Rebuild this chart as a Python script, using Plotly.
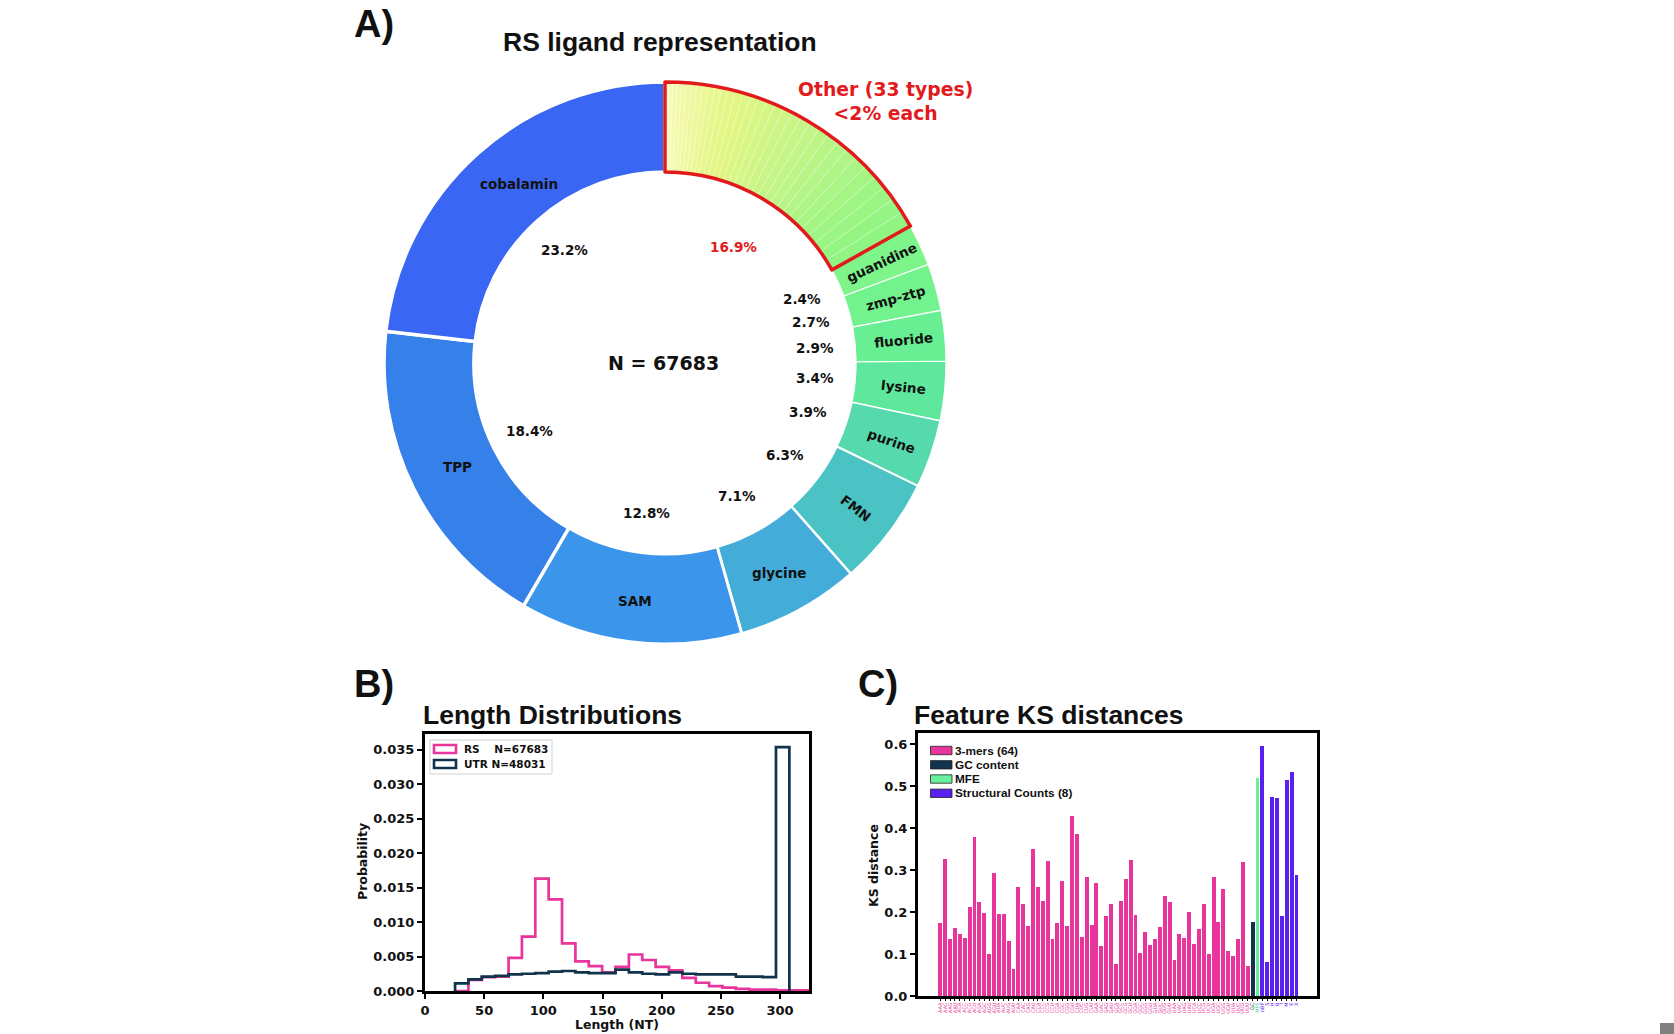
import math
import plotly.graph_objects as go

W, H = 1674, 1034

# ---------------- Panel A data ----------------
ligands = ["guanidine", "zmp-ztp", "fluoride", "lysine", "purine", "FMN",
           "glycine", "SAM", "TPP", "cobalamin"]
ligand_pct = [2.4, 2.7, 2.9, 3.4, 3.9, 6.3, 7.1, 12.8, 18.4, 23.2]
ligand_colors = ["#7ef58a", "#73f38d", "#69ef93", "#5fe89d", "#56d9ad",
                 "#4bc3c4", "#44acd9", "#3b95ea", "#3680ea", "#3966f2"]
# 33 small ligand types grouped as "Other" (each < 2 %)
other_pct = [0.21, 0.23, 0.24, 0.26, 0.28, 0.29, 0.31, 0.33, 0.35, 0.36, 0.38,
             0.40, 0.42, 0.43, 0.45, 0.47, 0.49, 0.51, 0.53, 0.55, 0.57, 0.59,
             0.61, 0.63, 0.66, 0.68, 0.70, 0.73, 0.78, 0.81, 0.84, 0.88, 0.93]
n_sequences = 67683
n_other_types = 33

# ---------------- Panel B data ----------------
bin_edges = [25.4, 36.7, 48.0, 59.3, 70.6, 81.9, 93.2, 104.5, 115.8, 127.1,
             138.4, 149.7, 161.0, 172.3, 183.6, 194.9, 206.2, 217.5, 228.8,
             240.1, 251.4, 262.7, 274.0, 285.3, 296.6, 307.9, 319.2, 330.5]
rs_density = [0.0, 0.0016, 0.0020, 0.0021, 0.0048, 0.0079, 0.0163, 0.0133,
              0.0069, 0.0043, 0.0036, 0.0027, 0.0035, 0.0053, 0.0045, 0.0035,
              0.0030, 0.0019, 0.0012, 0.0007, 0.0005, 0.0003, 0.0002, 0.0002,
              0.0001, 0.0001, 0.0001]
utr_density = [0.0011, 0.0017, 0.0021, 0.0022, 0.0024, 0.0025, 0.0026, 0.0028,
               0.0029, 0.0027, 0.0026, 0.0026, 0.0031, 0.0027, 0.0025, 0.0024,
               0.0027, 0.0025, 0.0024, 0.0024, 0.0024, 0.0021, 0.0021, 0.0020,
               0.0354]
rs_n = 67683
utr_n = 48031

# ---------------- Panel C data ----------------
kmer_labels = ["AAA", "AAC", "AAG", "AAU", "ACA", "ACC", "ACG", "ACU",
               "AGA", "AGC", "AGG", "AGU", "AUA", "AUC", "AUG", "AUU",
               "CAA", "CAC", "CAG", "CAU", "CCA", "CCC", "CCG", "CCU",
               "CGA", "CGC", "CGG", "CGU", "CUA", "CUC", "CUG", "CUU",
               "GAA", "GAC", "GAG", "GAU", "GCA", "GCC", "GCG", "GCU",
               "GGA", "GGC", "GGG", "GGU", "GUA", "GUC", "GUG", "GUU",
               "UAA", "UAC", "UAG", "UAU", "UCA", "UCC", "UCG", "UCU",
               "UGA", "UGC", "UGG", "UGU", "UUA", "UUC", "UUG", "UUU"]
kmer_ks = [0.173, 0.327, 0.137, 0.161, 0.148, 0.139, 0.211, 0.380,
           0.223, 0.197, 0.099, 0.294, 0.196, 0.196, 0.131, 0.064,
           0.261, 0.219, 0.167, 0.350, 0.259, 0.227, 0.321, 0.137,
           0.175, 0.273, 0.168, 0.428, 0.386, 0.140, 0.283, 0.169,
           0.270, 0.119, 0.191, 0.220, 0.076, 0.227, 0.279, 0.324,
           0.194, 0.102, 0.153, 0.122, 0.135, 0.165, 0.238, 0.223,
           0.086, 0.147, 0.138, 0.200, 0.124, 0.159, 0.219, 0.101,
           0.284, 0.176, 0.254, 0.108, 0.095, 0.135, 0.320, 0.072]
gc_label = "GC"
gc_ks = 0.177
mfe_label = "MFE"
mfe_ks = 0.519
struct_labels = ["nBP", "S", "H", "B", "I", "M", "E", "X"]
struct_ks = [0.597, 0.080, 0.475, 0.472, 0.190, 0.515, 0.535, 0.288]

# ---------------- styling ----------------
PINK = "#e8359b"
NAVY = "#11344c"
MFE_GREEN = "#68f09c"
VIOLET = "#5a20f0"
RED = "#e31a1c"
DJ = "DejaVu Sans"
AR = "Liberation Sans, Arial, sans-serif"


def px(x):
    return x / W


def py(y):
    return 1 - y / H


def hex2rgb(h):
    h = h.lstrip("#")
    return [int(h[i:i + 2], 16) for i in (0, 2, 4)]


def grad(anchors, t):
    for (t0, c0), (t1, c1) in zip(anchors[:-1], anchors[1:]):
        if t0 <= t <= t1:
            f = (t - t0) / (t1 - t0) if t1 > t0 else 0
            a, b = hex2rgb(c0), hex2rgb(c1)
            return "rgb(%d,%d,%d)" % tuple(round(a[i] + (b[i] - a[i]) * f) for i in range(3))
    return anchors[-1][1]


other_anchors = [(0.0, "#f8fab6"), (0.4, "#e3f682"), (0.7, "#c0f587"), (1.0, "#90f582")]
other_colors = [grad(other_anchors, i / (len(other_pct) - 1)) for i in range(len(other_pct))]

fig = go.Figure()

# ---------------- Panel A: donut ----------------
CX, CY, R = 665, 363, 281
HOLE = 0.68
dom_x = [px(CX - R), px(CX + R)]
dom_y = [py(CY + R), py(CY - R)]

pie_values = other_pct + ligand_pct
pie_labels = ["other type %d" % (i + 1) for i in range(len(other_pct))] + ligands
pie_colors = other_colors + ligand_colors
line_w = [0.6] * len(other_pct) + [1.2, 1.2, 1.2, 1.2, 1.5, 2.0, 2.5, 3.0, 3.5, 3.5]
line_c = ["rgba(255,255,255,0.4)"] * len(other_pct) + ["white"] * len(ligands)

fig.add_trace(go.Pie(values=pie_values, labels=pie_labels, sort=False,
                     direction="clockwise", rotation=0, hole=HOLE,
                     marker=dict(colors=pie_colors, line=dict(color=line_c, width=line_w)),
                     textinfo="none", hoverinfo="label+percent", showlegend=False,
                     domain=dict(x=dom_x, y=dom_y)))

other_total = sum(other_pct)
rest_total = sum(ligand_pct)
fig.add_trace(go.Pie(values=[other_total, rest_total], labels=["Other", "rest"], sort=False,
                     direction="clockwise", rotation=0, hole=HOLE,
                     marker=dict(colors=["rgba(0,0,0,0)", "rgba(0,0,0,0)"],
                                 line=dict(color=[RED, "rgba(0,0,0,0)"], width=[3.5, 0])),
                     textinfo="none", hoverinfo="skip", showlegend=False,
                     domain=dict(x=dom_x, y=dom_y)))

total = other_total + rest_total
R_LAB = 280
label_radius = {"cobalamin": 0.825, "TPP": 0.83}
label_turn = {"cobalamin": 2.5}


def polar(frac, ang):
    a = math.radians(ang)
    return px(CX + R_LAB * frac * math.sin(a)), py(CY - R_LAB * frac * math.cos(a))


annotations = []
lab_font = dict(family=DJ, size=13.5, color="#111111", weight="bold")

# Other percentage
ang_other_mid = other_total / total * 360 / 2
x, y = polar(0.48, ang_other_mid)
annotations.append(dict(x=x, y=y, text="%.1f%%" % (other_total / total * 100),
                        font=dict(family=DJ, size=13.5, color=RED, weight="bold")))

cum = other_total
for name, v in zip(ligands, ligand_pct):
    a0 = cum / total * 360
    cum += v
    a1 = cum / total * 360
    mid = (a0 + a1) / 2
    x, y = polar(label_radius.get(name, 0.855), mid + label_turn.get(name, 0))
    rot = (mid - 90) if v < 7 else 0
    annotations.append(dict(x=x, y=y, text=name, textangle=rot, font=lab_font))
    x, y = polar(0.54, mid)
    annotations.append(dict(x=x, y=y, text="%.1f%%" % (v / total * 100), font=lab_font))

annotations.append(dict(x=px(CX - 2), y=py(CY), text="N = %d" % n_sequences,
                        font=dict(family=DJ, size=19, color="#111111", weight="bold")))
annotations.append(dict(x=px(885), y=py(101),
                        text="Other (%d types)<br>&lt;2%% each" % n_other_types,
                        font=dict(family=DJ, size=18.8, color=RED, weight="bold")))

# ---------------- Panel B: step histograms ----------------
def step_xy(edges, vals):
    e = edges[:len(vals) + 1]
    return [e[0]] + e[:-1] + [e[-1]], [0] + list(vals) + [0]


xs, ys = step_xy(bin_edges, rs_density)
fig.add_trace(go.Scatter(x=xs, y=ys, mode="lines", line=dict(color=PINK, width=2.7, shape="hv"),
                         xaxis="x", yaxis="y", showlegend=False))
xs, ys = step_xy(bin_edges, utr_density)
fig.add_trace(go.Scatter(x=xs, y=ys, mode="lines", line=dict(color=NAVY, width=2.7, shape="hv"),
                         xaxis="x", yaxis="y", showlegend=False))

# ---------------- Panel C: bars ----------------
n_k = len(kmer_ks)
x_k = list(range(n_k))
x_gc = [n_k]
x_mfe = [n_k + 1]
x_st = list(range(n_k + 2, n_k + 2 + len(struct_ks)))
bw = 0.8
fig.add_trace(go.Bar(x=x_k, y=kmer_ks, width=bw, marker=dict(color=PINK, line=dict(width=0)),
                     xaxis="x2", yaxis="y2", showlegend=False))
fig.add_trace(go.Bar(x=x_gc, y=[gc_ks], width=bw, marker=dict(color=NAVY, line=dict(width=0)),
                     xaxis="x2", yaxis="y2", showlegend=False))
fig.add_trace(go.Bar(x=x_mfe, y=[mfe_ks], width=bw, marker=dict(color=MFE_GREEN, line=dict(width=0)),
                     xaxis="x2", yaxis="y2", showlegend=False))
fig.add_trace(go.Bar(x=x_st, y=struct_ks, width=bw, marker=dict(color=VIOLET, line=dict(width=0)),
                     xaxis="x2", yaxis="y2", showlegend=False))

tick_vals = x_k + x_gc + x_mfe + x_st
tick_cols = [PINK] * n_k + [NAVY] + ["#3fd98a"] + [VIOLET] * len(struct_ks)
tick_txt = ['<span style="color:%s">%s</span>' % (c, t)
            for c, t in zip(tick_cols, kmer_labels + [gc_label, mfe_label] + struct_labels)]

tickfont = dict(family=DJ, size=13, color="#111111", weight="bold")
frame = dict(showline=True, linewidth=3, linecolor="black", mirror=True,
             showgrid=False, zeroline=False, ticks="outside", ticklen=5, tickwidth=2,
             tickcolor="black", automargin=False)

fig.update_layout(
    width=W, height=H, margin=dict(l=0, r=0, t=0, b=0, pad=0, autoexpand=False),
    autosize=False,
    paper_bgcolor="white", plot_bgcolor="white", showlegend=False, bargap=0,
    xaxis=dict(domain=[px(425), px(809)], range=[0, 324.5],
               tickvals=[0, 50, 100, 150, 200, 250, 300], tickfont=tickfont,
               anchor="y", **frame),
    yaxis=dict(domain=[py(991), py(734)], range=[0, 0.0373],
               tickvals=[0, 0.005, 0.01, 0.015, 0.02, 0.025, 0.03, 0.035],
               tickformat=".3f", tickfont=tickfont, anchor="x", **frame),
    xaxis2=dict(domain=[px(918), px(1317)], range=[-4.57, 77.2], tickvals=tick_vals,
                ticktext=tick_txt, tickangle=-90,
                tickfont=dict(family=DJ, size=5), anchor="y2",
                showline=True, linewidth=3, linecolor="black", mirror=True,
                showgrid=False, zeroline=False, ticks="outside", ticklen=1.5,
                tickwidth=0.5, tickcolor="black", automargin=False),
    yaxis2=dict(domain=[py(996), py(733)], range=[0, 0.627],
                tickvals=[0, 0.1, 0.2, 0.3, 0.4, 0.5, 0.6], tickformat=".1f",
                tickfont=tickfont, anchor="x2", **frame),
)

# Titles / panel letters / axis titles
title_font = dict(family=AR, size=26.5, color="#111111", weight="bold")
letter_font = dict(family=AR, size=38, color="#111111", weight="bold")
axis_font = dict(family=DJ, size=12.5, color="#111111", weight="bold")
annotations += [
    dict(x=px(352), y=py(24), text="A)", xanchor="left", font=letter_font),
    dict(x=px(352), y=py(684), text="B)", xanchor="left", font=letter_font),
    dict(x=px(856), y=py(684), text="C)", xanchor="left", font=letter_font),
    dict(x=px(660), y=py(42), text="RS ligand representation", font=title_font),
    dict(x=px(421), y=py(715), text="Length Distributions", xanchor="left", font=title_font),
    dict(x=px(912), y=py(715), text="Feature KS distances", xanchor="left", font=title_font),
    dict(x=px(362), y=py(862), text="Probability", textangle=-90, font=axis_font),
    dict(x=px(617), y=py(1024), text="Length (NT)", font=axis_font),
    dict(x=px(873), y=py(866), text="KS distance", textangle=-90, font=axis_font),
]

shapes = []
# Panel B legend
shapes.append(dict(type="rect", xref="paper", yref="paper", x0=px(430), x1=px(552),
                   y0=py(774), y1=py(740), line=dict(color="#d0d0d0", width=1),
                   fillcolor="rgba(255,255,255,0.8)"))
leg_b = [(PINK, "RS\u00a0\u00a0\u00a0\u00a0N=%d" % rs_n, 749), (NAVY, "UTR N=%d" % utr_n, 764)]
for col, txt, yc in leg_b:
    shapes.append(dict(type="rect", xref="paper", yref="paper", x0=px(434), x1=px(456),
                       y0=py(yc + 4), y1=py(yc - 4), line=dict(color=col, width=2.6),
                       fillcolor="white"))
    annotations.append(dict(x=px(462), y=py(yc), text=txt, xanchor="left",
                            font=dict(family=DJ, size=10.5, color="#111111", weight="bold")))

# Panel C legend
leg_c = [(PINK, "3-mers (%d)" % n_k, 750.5), (NAVY, "GC content", 764.8),
         (MFE_GREEN, "MFE", 779), (VIOLET, "Structural Counts (%d)" % len(struct_ks), 793.3)]
for col, txt, yc in leg_c:
    shapes.append(dict(type="rect", xref="paper", yref="paper", x0=px(930.5), x1=px(952),
                       y0=py(yc + 4.2), y1=py(yc - 4.2), line=dict(color="#222222", width=0.8),
                       fillcolor=col))
    annotations.append(dict(x=px(953), y=py(yc), text=txt, xanchor="left",
                            font=dict(family=AR, size=11.8, color="#111111", weight="bold")))

# small grey corner block present in the source image
shapes.append(dict(type="rect", xref="paper", yref="paper", x0=px(1660), x1=1,
                   y0=0, y1=py(1023), line=dict(width=0), fillcolor="#808080"))

for a in annotations:
    a.setdefault("xref", "paper")
    a.setdefault("yref", "paper")
    a.setdefault("showarrow", False)
    a.setdefault("xanchor", "center")
    a.setdefault("yanchor", "middle")
fig.update_layout(annotations=annotations, shapes=shapes)

fig.write_html("out.html")
